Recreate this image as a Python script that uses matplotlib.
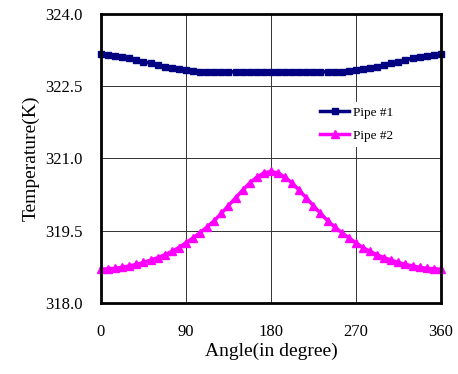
import numpy as np
import matplotlib.pyplot as plt

plt.rcParams['font.family'] = ['Liberation Serif', 'DejaVu Serif']

# angles every 7.5 degrees, 0..360
angle = [i * 7.5 for i in range(49)]

# half curves (0..180), mirrored for 180..360
pipe1_half = [323.16, 323.15, 323.13, 323.11, 323.08, 323.05, 323.01, 322.98,
              322.94, 322.91, 322.88, 322.85, 322.83, 322.81, 322.80, 322.80,
              322.80, 322.80, 322.80, 322.80, 322.80, 322.80, 322.80, 322.80,
              322.80]
pipe2_half = [318.70, 318.71, 318.72, 318.74, 318.77, 318.80, 318.84, 318.89,
              318.94, 319.00, 319.07, 319.15, 319.25, 319.35, 319.46, 319.58,
              319.71, 319.86, 320.02, 320.18, 320.34, 320.49, 320.61, 320.70,
              320.73]
pipe1 = pipe1_half + pipe1_half[-2::-1]
pipe2 = pipe2_half + pipe2_half[-2::-1]

xticks = [0, 90, 180, 270, 360]
yticks = [318.0, 319.5, 321.0, 322.5, 324.0]

fig = plt.figure(figsize=(4.58, 3.74), dpi=100)
ax = fig.add_axes([0.2205, 0.190, 0.742, 0.7725])

ax.plot(angle, pipe1, color='#000080', lw=2.5, marker='s', ms=5, label='Pipe #1', clip_on=False, zorder=3)
ax.plot(angle, pipe2, color='#FF00FF', lw=2.5, marker='^', ms=6, label='Pipe #2', clip_on=False, zorder=3)

ax.set_xlim(0, 360)
ax.set_ylim(318.0, 324.0)
ax.set_xticks(xticks)
ax.set_yticks(yticks)
ax.set_yticklabels([f"{v:.1f}" for v in yticks])
ax.tick_params(length=0, labelsize=12)
ax.tick_params(axis='x', pad=15)
ax.tick_params(axis='y', pad=13)
ax.grid(True, color='#333333', lw=0.7)
for s in ax.spines.values():
    s.set_linewidth(2)
    s.set_zorder(4)

ax.set_xlabel("Angle(in degree)", fontsize=14, labelpad=2)
ax.set_ylabel("Temperature(K)", fontsize=14, labelpad=4)

leg = ax.legend(loc='upper left', bbox_to_anchor=(0.61, 0.72), fontsize=9.5,
                frameon=True, edgecolor='none', facecolor='white', framealpha=1,
                fancybox=False, handlelength=2.2, handletextpad=0.3, labelspacing=0.8)

fig.savefig("out.png", dpi=100)
